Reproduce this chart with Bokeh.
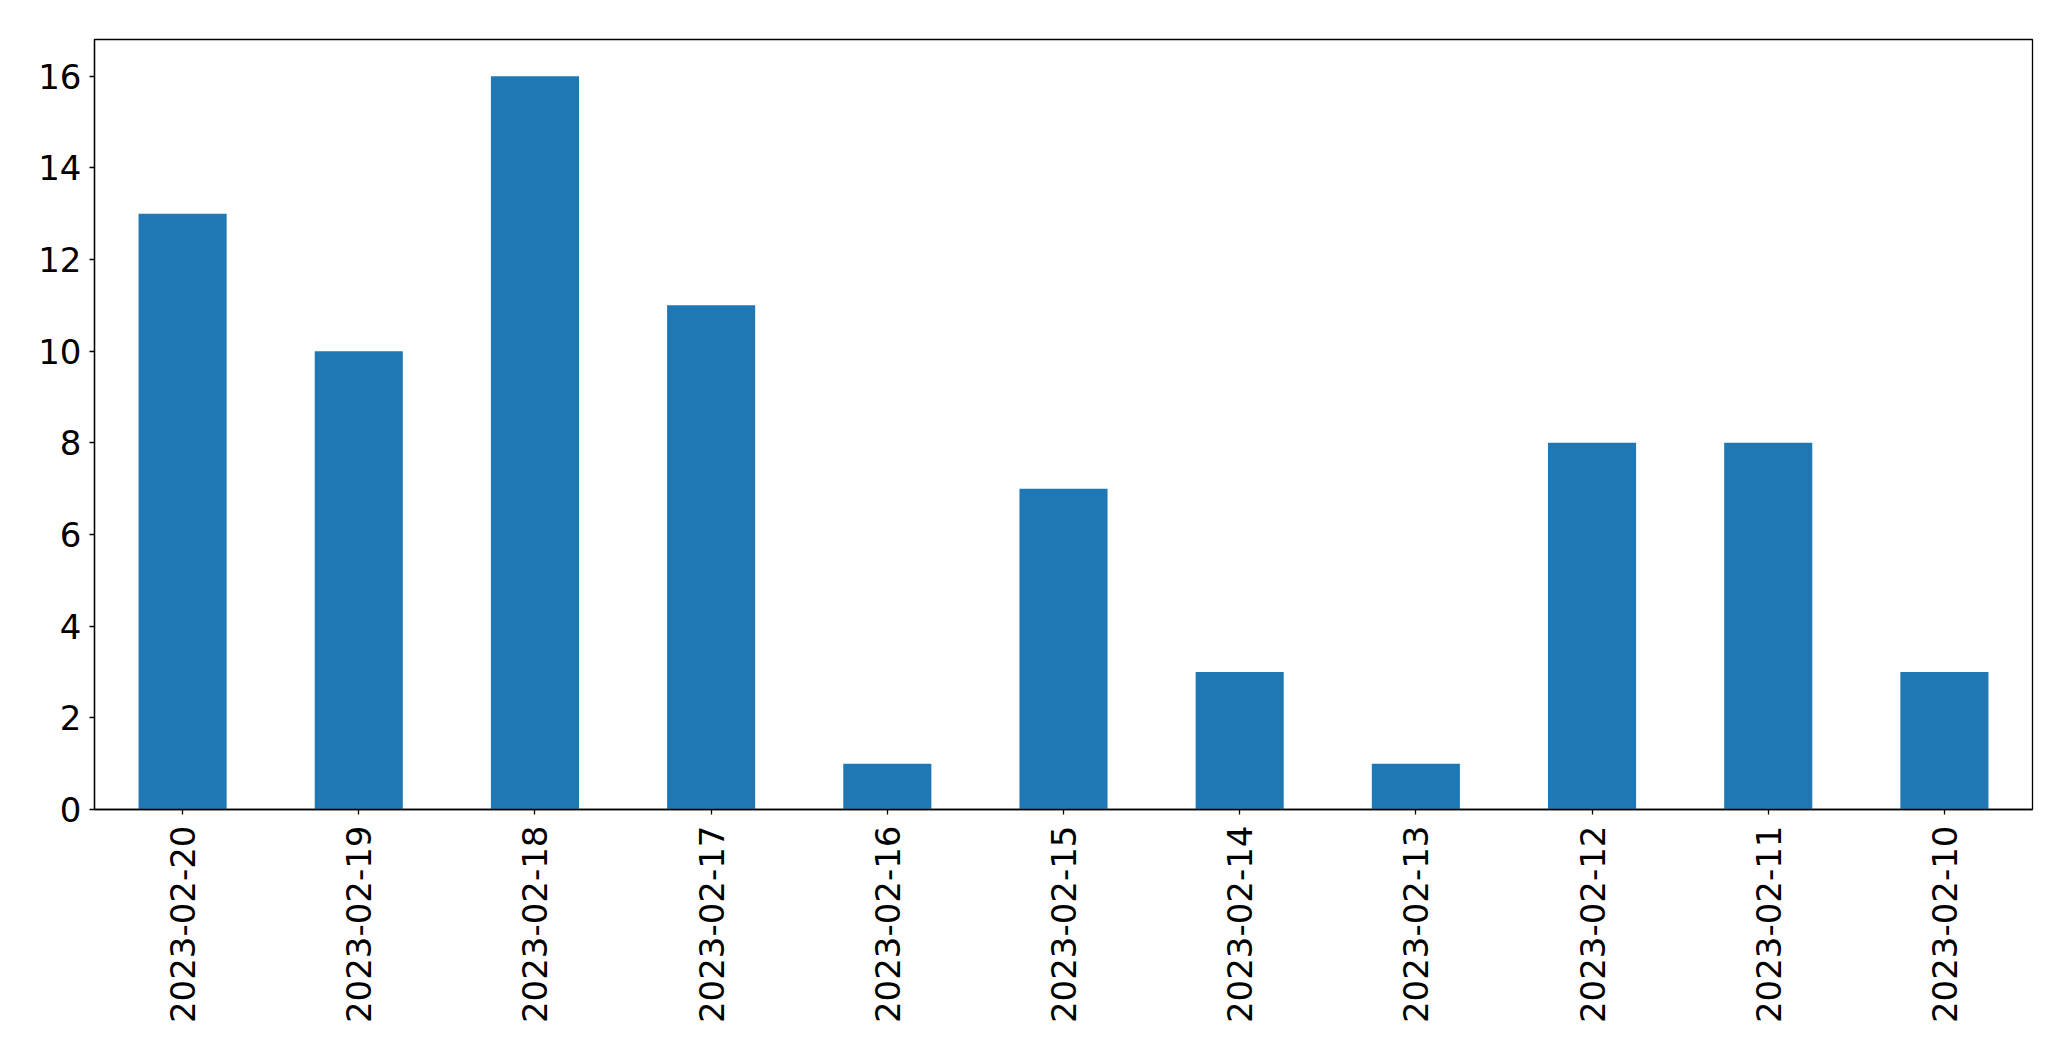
import math
from bokeh.plotting import figure
from bokeh.models import ColumnDataSource, FactorRange, Range1d, FixedTicker
from bokeh.embed import file_html
from bokeh.resources import INLINE

dates = ["2023-02-20", "2023-02-19", "2023-02-18", "2023-02-17", "2023-02-16",
         "2023-02-15", "2023-02-14", "2023-02-13", "2023-02-12", "2023-02-11",
         "2023-02-10"]
counts = [13, 10, 16, 11, 1, 7, 3, 1, 8, 8, 3]
y_ticks = [0, 2, 4, 6, 8, 10, 12, 14, 16]

source = ColumnDataSource(data=dict(date=dates, count=counts))

p = figure(x_range=FactorRange(*dates), y_range=Range1d(0, 16.8),
           width=2055, height=1045, output_backend="svg", toolbar_location=None,
           min_border_left=94, min_border_right=23, min_border_top=39, min_border_bottom=236)

p.vbar(x="date", top="count", width=0.5, source=source, color="#1f77b4", line_color=None)

p.xgrid.grid_line_color = None
p.ygrid.grid_line_color = None
p.outline_line_color = "black"
p.outline_line_width = 1.3
p.outline_line_alpha = 1

for ax in (p.xaxis[0], p.yaxis[0]):
    ax.axis_line_color = "black"
    ax.axis_line_width = 1.3
    ax.major_tick_line_color = "black"
    ax.major_tick_line_width = 1.3
    ax.major_tick_out = 5
    ax.major_tick_in = 0
    ax.minor_tick_line_color = None
    ax.major_label_text_color = "black"
    ax.major_label_text_font = "DejaVu Sans"
    ax.major_label_text_font_size = "34px"

p.yaxis[0].ticker = FixedTicker(ticks=y_ticks)
p.yaxis[0].major_label_standoff = 8
p.xaxis[0].major_label_orientation = math.pi / 2
p.xaxis[0].major_label_standoff = 11

open("out.html", "w").write(file_html(p, INLINE))
